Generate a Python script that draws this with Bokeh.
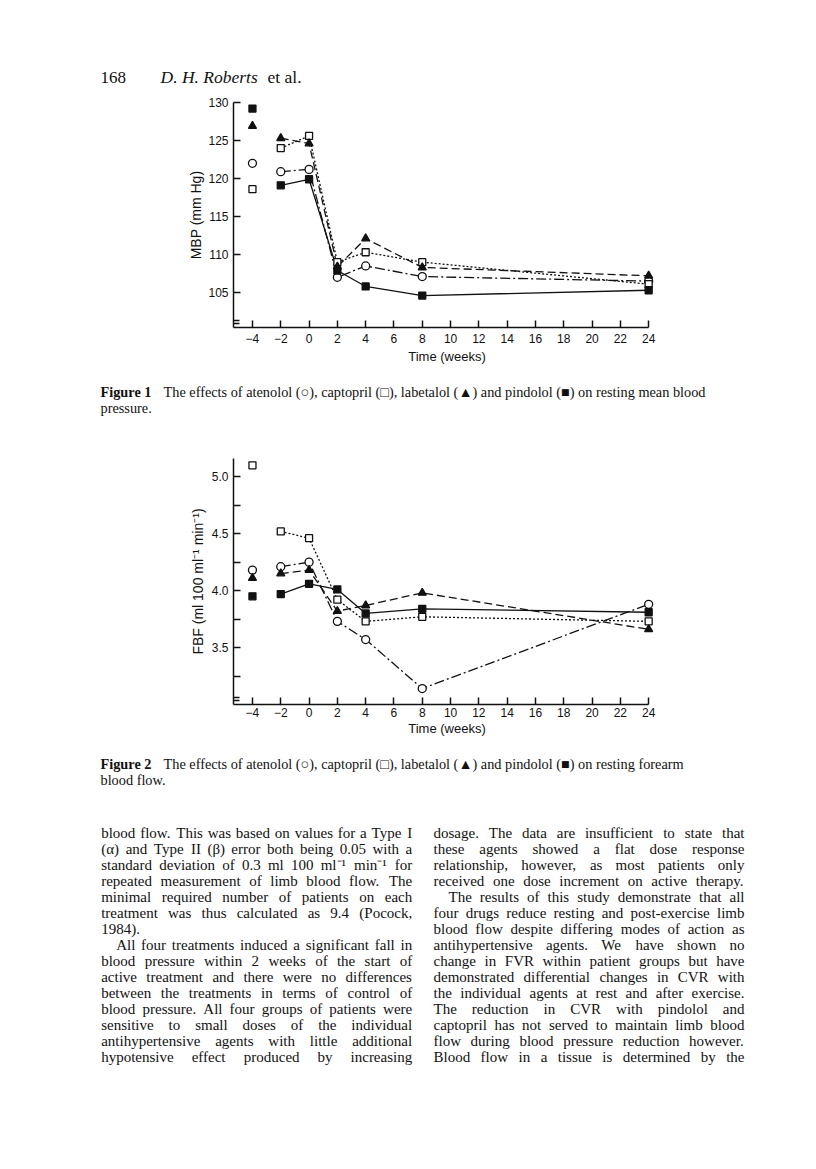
from bokeh.plotting import figure
from bokeh.layouts import column, row
from bokeh.models import Range1d, FixedTicker, PrintfTickFormatter
from bokeh.core.properties import value
from bokeh.embed import file_html
from bokeh.resources import INLINE

# ---------------- data ----------------
weeks = [-4, -2, 0, 2, 4, 8, 24]
x_ticks = [-4, -2, 0, 2, 4, 6, 8, 10, 12, 14, 16, 18, 20, 22, 24]

mbp_atenolol = [122.0, 120.9, 121.2, 107.0, 108.5, 107.1, 106.5]
mbp_captopril = [118.6, 124.0, 125.6, 109.0, 110.3, 109.0, 106.1]
mbp_labetalol = [126.9, 125.3, 124.6, 108.4, 112.1, 108.3, 107.2]
mbp_pindolol = [129.2, 119.1, 119.9, 107.9, 105.8, 104.6, 105.3]
mbp_ticks = [105, 110, 115, 120, 125, 130]

fbf_atenolol = [4.18, 4.21, 4.25, 3.73, 3.57, 3.14, 3.88]
fbf_captopril = [5.10, 4.52, 4.46, 3.92, 3.73, 3.77, 3.73]
fbf_labetalol = [4.11, 4.15, 4.18, 3.82, 3.87, 3.98, 3.66]
fbf_pindolol = [3.95, 3.97, 4.06, 4.01, 3.80, 3.84, 3.81]
fbf_ticks = [3.5, 4.0, 4.5, 5.0]
fbf_minor_ticks = [3.25, 3.75, 4.25, 4.75]

header_page = "168"
header_author = "D. H. Roberts"
header_etal = "et al."
cap1_label = "Figure 1"
cap1_lines = ["The effects of atenolol (\u25cb), captopril (\u25a1), labetalol (\u25b2) and pindolol (\u25a0) on resting mean blood",
              "pressure."]
cap2_label = "Figure 2"
cap2_lines = ["The effects of atenolol (\u25cb), captopril (\u25a1), labetalol (\u25b2) and pindolol (\u25a0) on resting forearm",
              "blood flow."]

# (text, indented, justified)
left_col = [
    ("blood flow. This was based on values for a Type I", 0, True),
    ("(\u03b1) and Type II (\u03b2) error both being 0.05 with a", 0, True),
    ("standard deviation of 0.3 ml 100 ml\u207b\u00b9 min\u207b\u00b9 for", 0, True),
    ("repeated measurement of limb blood flow. The", 0, True),
    ("minimal required number of patients on each", 0, True),
    ("treatment was thus calculated as 9.4 (Pocock,", 0, True),
    ("1984).", 0, False),
    ("All four treatments induced a significant fall in", 1, True),
    ("blood pressure within 2 weeks of the start of", 0, True),
    ("active treatment and there were no differences", 0, True),
    ("between the treatments in terms of control of", 0, True),
    ("blood pressure. All four groups of patients were", 0, True),
    ("sensitive to small doses of the individual", 0, True),
    ("antihypertensive agents with little additional", 0, True),
    ("hypotensive effect produced by increasing", 0, True),
]
right_col = [
    ("dosage. The data are insufficient to state that", 0, True),
    ("these agents showed a flat dose response", 0, True),
    ("relationship, however, as most patients only", 0, True),
    ("received one dose increment on active therapy.", 0, True),
    ("The results of this study demonstrate that all", 1, True),
    ("four drugs reduce resting and post-exercise limb", 0, True),
    ("blood flow despite differing modes of action as", 0, True),
    ("antihypertensive agents. We have shown no", 0, True),
    ("change in FVR within patient groups but have", 0, True),
    ("demonstrated differential changes in CVR with", 0, True),
    ("the individual agents at rest and after exercise.", 0, True),
    ("The reduction in CVR with pindolol and", 0, True),
    ("captopril has not served to maintain limb blood", 0, True),
    ("flow during blood pressure reduction however.", 0, True),
    ("Blood flow in a tissue is determined by the", 0, True),
]

# ---------------- styles ----------------
SANS = "Liberation Sans"
SERIF = "Liberation Serif"
INK = "#111111"
PAGE_W = 816
FRAME_L = 233
FRAME_W = 427
PX_PER_WEEK = 14.15
X0 = -5.34
CAP_SIZE = 14.3
BODY_SIZE = 15

series_style = [
    ("atenolol", "circle", "white", "10 3 2 3", 8),
    ("captopril", "square", "white", "2 2", 7),
    ("labetalol", "triangle", INK, "8 4", 8),
    ("pindolol", "square", INK, "solid", 7),
]

_chars = " !\"#$%&'()*+,-./0123456789:;<=>?@ABCDEFGHIJKLMNOPQRSTUVWXYZ[\\]^_`abcdefghijklmnopqrstuvwxyz"
_w = [250, 333, 408, 500, 500, 833, 778, 180, 333, 333, 500, 564, 250, 333, 250, 278,
      500, 500, 500, 500, 500, 500, 500, 500, 500, 500,
      278, 278, 564, 564, 564, 444, 921,
      722, 667, 667, 722, 611, 556, 722, 722, 333, 389, 722, 611, 889, 722, 722, 556, 722, 667, 556, 611, 722, 722, 944, 722, 722, 611,
      333, 278, 333, 469, 500, 333,
      444, 500, 444, 500, 444, 333, 500, 500, 278, 278, 500, 278, 778, 500, 500, 500, 500, 333, 389, 278, 500, 500, 722, 500, 500, 444]
TIMES_W = dict(zip(_chars, _w))
TIMES_W.update({"\u03b1": 540, "\u03b2": 500, "\u207b": 380, "\u00b9": 300})


def tw(s, size):
    return sum(TIMES_W.get(c, 500) for c in s) * size / 1000.0


def chart(height, top, frame_h, y0, y1, yticks, yminor, fmt, ylabel, series,
          tick_standoff, label_standoff, ylab_standoff):
    ppu = frame_h / (y1 - y0)
    p = figure(width=PAGE_W, height=height,
               x_range=Range1d(X0, X0 + FRAME_W / PX_PER_WEEK), y_range=Range1d(y0, y1),
               toolbar_location=None, output_backend="svg",
               min_border_left=FRAME_L, min_border_right=PAGE_W - FRAME_L - FRAME_W,
               min_border_top=top, min_border_bottom=height - top - frame_h)
    p.outline_line_color = None
    p.grid.visible = False

    # axis-break mark just above the x axis
    yb1 = y0 + 7 / ppu
    yb2 = y0 + 4 / ppu
    p.segment(x0=[X0, X0], x1=[X0 + 6 / PX_PER_WEEK] * 2, y0=[yb1, yb2], y1=[yb1, yb2],
              line_color=INK, line_width=1.3)

    for (key, marker, fill, dash, size), vals in zip(series_style, series):
        p.line(weeks[1:], vals[1:], line_color=INK, line_width=1.3, line_dash=dash)
    for (key, marker, fill, dash, size), vals in zip(series_style, series):
        p.scatter(weeks, vals, marker=marker, size=size, fill_color=fill,
                  line_color=INK, line_width=1.3)

    xa = p.xaxis[0]
    xa.ticker = FixedTicker(ticks=x_ticks)
    xa.bounds = (X0, 24)
    xa.major_label_overrides = {-4: "\u22124", -2: "\u22122"}
    xa.axis_label = "Time (weeks)"
    xa.axis_label_standoff = label_standoff
    xa.major_label_standoff = tick_standoff

    ya = p.yaxis[0]
    ya.ticker = FixedTicker(ticks=yticks, minor_ticks=yminor)
    ya.bounds = (y0, y1)
    ya.formatter = PrintfTickFormatter(format=fmt)
    ya.axis_label = ylabel
    ya.axis_label_standoff = ylab_standoff
    ya.major_label_standoff = 5

    for ax in (xa, ya):
        ax.axis_line_color = INK
        ax.axis_line_width = 1.5
        ax.major_tick_line_color = INK
        ax.major_tick_line_width = 1.5
        ax.minor_tick_line_color = INK
        ax.minor_tick_line_width = 1.5
        ax.major_tick_in = 7
        ax.major_tick_out = 0
        ax.minor_tick_in = 7
        ax.minor_tick_out = 0
        ax.major_label_text_font = SANS
        ax.major_label_text_font_size = "12px"
        ax.major_label_text_color = INK
        ax.axis_label_text_font = SANS
        ax.axis_label_text_font_style = "normal"
        ax.axis_label_text_color = INK
    xa.axis_label_text_font_size = "13px"
    ya.axis_label_text_font_size = "14px"
    xa.minor_tick_in = 0
    return p


def page_fig(height):
    p = figure(width=PAGE_W, height=height, x_range=Range1d(0, PAGE_W), y_range=Range1d(height, 0),
               toolbar_location=None, output_backend="svg",
               min_border=0, min_border_left=0, min_border_right=0,
               min_border_top=0, min_border_bottom=0,
               x_axis_type=None, y_axis_type=None)
    p.outline_line_color = None
    p.grid.visible = False
    return p


def put(p, x, y, s, size, style="normal"):
    p.text(x=[x], y=[y], text=[s], text_font=value(SERIF), text_font_size=f"{size}px",
           text_font_style=style, text_baseline="alphabetic", text_align="left", text_color=INK)


def put_column(p, lines, x0, width, y0, step, size, indent):
    xs, ys, ts = [], [], []
    for i, (line, ind, just) in enumerate(lines):
        words = line.split(" ")
        start = x0 + (indent if ind else 0)
        avail = x0 + width - start
        wsum = sum(tw(w, size) for w in words)
        if just and len(words) > 1:
            gap = max((avail - wsum) / (len(words) - 1), 2.0)
        else:
            gap = tw(" ", size)
        x = start
        for w in words:
            xs.append(x)
            ys.append(y0 + i * step)
            ts.append(w)
            x += tw(w, size) + gap
    p.text(x=xs, y=ys, text=ts, text_font=value(SERIF), text_font_size=f"{size}px",
           text_baseline="alphabetic", text_align="left", text_color=INK)


# ---------------- page ----------------
# running head (page y 0..90)
head = page_fig(90)
put(head, 100, 76.5, header_page, 17)
put(head, 160, 76.5, header_author, 17.5, "italic")
put(head, 267, 76.5, header_etal, 17.5)

# figure 1 (page y 90..375)
fig1 = chart(285, 12, 225, 100.4, 130, mbp_ticks, [], "%d", "MBP (mm Hg)",
             [mbp_atenolol, mbp_captopril, mbp_labetalol, mbp_pindolol], 6, 3, 1)

# caption 1 (page y 375..440)
TOP1 = 375
cap1 = page_fig(65)
put(cap1, 100, 391 - TOP1, cap1_label, CAP_SIZE, "bold")
put(cap1, 163, 391 - TOP1, cap1_lines[0], CAP_SIZE)
put(cap1, 100, 407 - TOP1, cap1_lines[1], CAP_SIZE)

# figure 2 (page y 440..742)
fig2 = chart(302, 18, 246, 3.0, 5.16, fbf_ticks, fbf_minor_ticks, "%.1f",
             "FBF (ml 100 ml\u207b\u00b9 min\u207b\u00b9)",
             [fbf_atenolol, fbf_captopril, fbf_labetalol, fbf_pindolol], 3, 1, 3)

# caption 2 + body (page y 742..1165)
TOP2 = 742
body = page_fig(423)
put(body, 100, 763 - TOP2, cap2_label, CAP_SIZE, "bold")
put(body, 163, 763 - TOP2, cap2_lines[0], CAP_SIZE)
put(body, 100, 779 - TOP2, cap2_lines[1], CAP_SIZE)
put_column(body, left_col, 100.7, 311, 832 - TOP2, 16.07, BODY_SIZE, 15)
put_column(body, right_col, 433, 311, 832 - TOP2, 16.07, BODY_SIZE, 15)

page = column(row(head), fig1, row(cap1), fig2, row(body), spacing=0)

open("out.html", "w").write(file_html(page, INLINE))
